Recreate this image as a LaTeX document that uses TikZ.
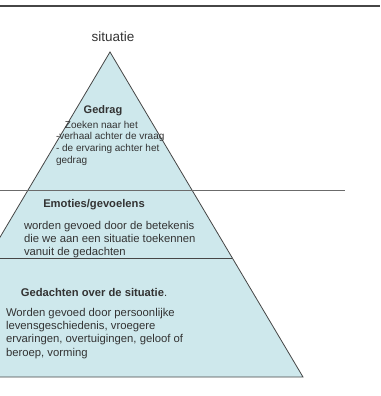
\documentclass[tikz,border=0pt]{standalone}
\usepackage{fontspec}
\setmainfont{Liberation Sans}
\usetikzlibrary{positioning}
\definecolor{pyramidfill}{RGB}{206,232,236}
\definecolor{edgegray}{RGB}{70,70,70}
\tikzset{
  every node/.style = {inner sep=0pt, outer sep=0pt, text=black!80},
}

\begin{document}
\begin{tikzpicture}[x=1pt,y=-1pt,
  title/.style={font=\fontsize{11.2}{13.5}\selectfont\bfseries},
  body/.style={font=\fontsize{11.3}{13.3}\selectfont, align=left, anchor=north west},
  smalltext/.style={font=\fontsize{10}{11.6}\selectfont, align=left, anchor=north west},
  edge/.style={draw=edgegray, line width=0.8pt}]
  \useasboundingbox (0,0) rectangle (380,396);
  % pyramid corners and layer lines
  \coordinate (apex) at (110,52);
  \coordinate (rightfoot) at (303,377);
  \coordinate (leftfoot) at (-83,377);
  \coordinate (upperA) at (0,190);
  \coordinate (upperB) at (345,190);
  \coordinate (lowerA) at (0,258);
  \coordinate (lowerB) at (232,258);
  \begin{scope}
    \clip (0,0) rectangle (380,396);
    \filldraw[fill=pyramidfill, edge] (apex) -- (rightfoot) -- (leftfoot) -- cycle;
    \draw[edge, draw=edgegray!80] (upperA) -- (upperB);
    \draw[edge] (lowerA) -- (lowerB);
  \end{scope}
  \coordinate (ruleA) at (0,6);
  \coordinate (ruleB) at (380,6);
  \draw[edgegray, line width=1.2pt] (ruleA) -- (ruleB);
  % texts
  \node[font=\fontsize{13.5}{15}\selectfont] (situatie) at (113,37) {situatie};
  \node[font=\fontsize{11}{12}\selectfont\bfseries] (gedrag) at (103,111) {Gedrag};
  \node[smalltext] (gedragtext) at (56,121)
    {\hspace*{9pt}Zoeken naar het\\-verhaal achter de vraag\\- de ervaring achter het\\gedrag};
  \node[title] (emoties) at (94,205) {Emoties/gevoelens};
  \node[body] (emotiestext) at (24,221)
    {worden gevoed door de betekenis\\die we aan een situatie toekennen\\vanuit de gedachten};
  \node[title] (gedachten) at (94,292) {Gedachten over de situatie\mdseries.};
  \node[body] (gedachtentext) at (6,308)
    {Worden gevoed door persoonlijke\\levensgeschiedenis, vroegere\\ervaringen, overtuigingen, geloof of\\beroep, vorming};
\end{tikzpicture}
\end{document}
